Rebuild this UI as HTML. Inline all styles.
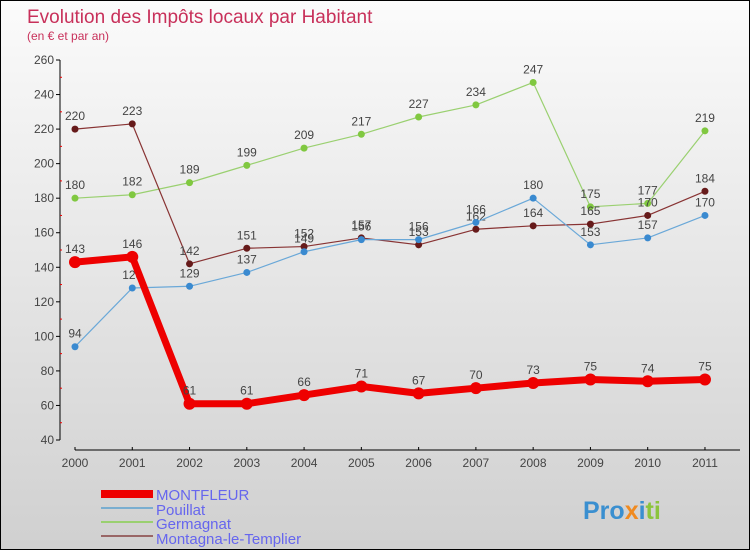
<!DOCTYPE html>
<html><head><meta charset="utf-8"><style>
body{margin:0}
#c{position:relative;width:748px;height:548px;border:1px solid #000;background:linear-gradient(#fbfbfb,#d0d0d0);overflow:hidden;font-family:"Liberation Sans",sans-serif}
</style></head><body>
<div id="c">
<svg id="s" width="748" height="548" style="position:absolute;left:0;top:0">
<text x="26" y="22" font-size="19" fill="#c8305a">Evolution des Impôts locaux par Habitant</text>
<text x="26" y="39" font-size="12" fill="#c8305a">(en € et par an)</text>
<line x1="59" y1="59" x2="59" y2="439" stroke="#000"/>
<line x1="74" y1="449" x2="739" y2="449" stroke="#000"/>
<g id="ax"></g><g id="ser"></g>
<g>
<rect x="100" y="489" width="52" height="8" fill="#e00"/>
<line x1="100" y1="507" x2="152" y2="507" stroke="#7aaed0" stroke-width="2"/>
<line x1="100" y1="521" x2="152" y2="521" stroke="#9ad070" stroke-width="2"/>
<line x1="100" y1="535" x2="152" y2="535" stroke="#996666" stroke-width="2"/>
<text x="155" y="499" font-size="15" fill="#6666ee">MONTFLEUR</text>
<text x="155" y="514" font-size="15" fill="#6666ee">Pouillat</text>
<text x="155" y="528" font-size="15" fill="#6666ee">Germagnat</text>
<text x="155" y="543" font-size="15" fill="#6666ee">Montagna-le-Templier</text>
</g>
<text x="582" y="518" font-size="25" font-weight="bold"><tspan fill="#3a8fd0">Pro</tspan><tspan fill="#f08a20">x</tspan><tspan fill="#3a8fd0">i</tspan><tspan fill="#8cc43c">ti</tspan></text>
</svg>
</div>
<script>
const years=[2000,2001,2002,2003,2004,2005,2006,2007,2008,2009,2010,2011];
const yTicks=[40,60,80,100,120,140,160,180,200,220,240,260];
const montfleur=[143,146,61,61,66,71,67,70,73,75,74,75];
const pouillat=[94,128,129,137,149,156,156,166,180,153,157,170];
const germagnat=[180,182,189,199,209,217,227,234,247,175,177,219];
const montagna=[220,223,142,151,152,157,153,162,164,165,170,184];
const NS="http://www.w3.org/2000/svg";
const X=i=>74+i*57.27, Y=v=>439-(v-40)*380/220;
function mk(t,a,p){const e=document.createElementNS(NS,t);for(const k in a)e.setAttribute(k,a[k]);p.appendChild(e);return e;}
const ax=document.getElementById('ax'), ser=document.getElementById('ser');
yTicks.forEach(v=>{const y=Y(v);
 const l=mk('line',{x1:55,y1:y,x2:59,y2:y,stroke:'#000'},ax);
 
 
 const t=mk('text',{x:53,y:y+4,'font-size':12,fill:'#444','text-anchor':'end'},ax);t.textContent=v;
 
 
 if(v<260){const m=mk('line',{x1:59,y1:Y(v+10),x2:61,y2:Y(v+10),stroke:'#e00'},ax);
 
 }
});
years.forEach((yr,i)=>{const x=X(i);
 const l=mk('line',{x1:x,y1:446,x2:x,y2:449,stroke:'#000'},ax);
 
 
 const t=mk('text',{x:x,y:466,'font-size':12,fill:'#444','text-anchor':'middle'},ax);t.textContent=yr;
 
 
});
function series(d,col,dot,w,r,name){
 const pl=mk('polyline',{points:d.map((v,i)=>X(i)+','+Y(v)).join(' '),fill:'none',stroke:col,'stroke-width':w,'stroke-linejoin':'round'},ser);
 
 
 d.forEach((v,i)=>{
  const c=mk('circle',{cx:X(i),cy:Y(v),r:r,fill:dot},ser);
  
  
  const t=mk('text',{x:X(i),y:Y(v)-9,'font-size':12,fill:'#444','text-anchor':'middle'},ser);t.textContent=v;
  
  
 });
}
series(germagnat,'#9ad070','#80c840',1.2,3.5,'germagnat');
series(montagna,'#883333','#661a1a',1.2,3.5,'montagna');
series(pouillat,'#6aa8d8','#3a8ad0',1.2,3.5,'pouillat');
series(montfleur,'#ee0000','#ee0000',7,6,'montfleur');
</script>
</body></html>
